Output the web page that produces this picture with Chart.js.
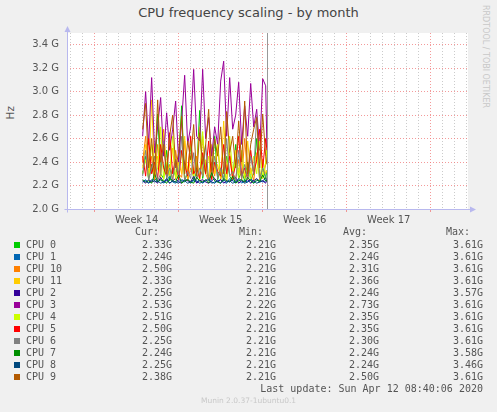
<!DOCTYPE html>
<html>
<head>
<meta charset="utf-8">
<script src="https://cdn.jsdelivr.net/npm/chart.js@4.4.1/dist/chart.umd.min.js"></script>
<style>
  body { margin: 0; background: #f0f0f0; width: 497px; height: 412px; overflow: hidden; position: relative; font-family: "DejaVu Sans", sans-serif; color: #555; }
  #c { position: absolute; left: 0; top: 0; }
  .t { position: absolute; white-space: pre; }
  .mono { font-family: "DejaVu Sans Mono", monospace; font-size: 10px; line-height: 12px; color: #555; }
  .sq { position: absolute; width: 6px; height: 6px; }
</style>
</head>
<body>
<div class="t" style="left:0;width:497px;top:5px;text-align:center;font-size:13px;line-height:16px;color:#444;">CPU frequency scaling - by month</div>
<div class="t" style="left:4px;top:106px;font-size:10.5px;writing-mode:vertical-rl;transform:rotate(180deg);color:#555;">Hz</div>
<div class="t" style="left:481px;top:5px;font-size:8px;writing-mode:vertical-rl;color:#c8c8c8;">RRDTOOL / TOBI OETIKER</div>
<canvas id="c" width="497" height="412"></canvas>
<div id="legend"></div>
<div class="t mono" style="right:14px;top:383px;">Last update: Sun Apr 12 08:40:06 2020</div>
<div class="t" style="left:0;width:497px;top:396px;text-align:center;font-size:7.5px;line-height:10px;color:#c8c8c8;">Munin 2.0.37-1ubuntu0.1</div>
<script>
// time in days from the week 14 boundary, one sample every 6 hours
const times = [4.0, 4.25, 4.5, 4.75, 5.0, 5.25, 5.5, 5.75, 6.0, 6.25, 6.5, 6.75,
  7.0, 7.25, 7.5, 7.75, 8.0, 8.25, 8.5, 8.75, 9.0, 9.25, 9.5, 9.75,
  10.0, 10.25, 10.5, 10.75, 11.0, 11.25, 11.5, 11.75, 12.0, 12.25, 12.5, 12.75,
  13.0, 13.25, 13.5, 13.75, 14.0, 14.25, 14.35];
const nowDay = 14.38;

const weekTicks = [3.5, 10.5, 17.5, 24.5];
const weekLabels = ["Week 14", "Week 15", "Week 16", "Week 17"];

const cpuNames = ["CPU 0", "CPU 1", "CPU 10", "CPU 11", "CPU 2", "CPU 3", "CPU 4", "CPU 5", "CPU 6", "CPU 7", "CPU 8", "CPU 9"];
const cpuColors = ["#00cc00", "#0066b3", "#ff8000", "#ffcc00", "#330099", "#990099", "#ccff00", "#ff0000", "#808080", "#008f00", "#00487d", "#b35a00"];

// GHz
const cpu0 = [2.30,2.45,2.25,2.38,2.24,2.81,2.30,2.26,2.50,2.24,2.35,2.28,2.42,2.88,2.25,2.30,2.55,2.24,2.32,2.84,2.26,2.40,2.24,2.30,2.62,2.25,2.35,2.24,2.45,2.28,2.24,2.55,2.26,2.32,2.24,2.40,2.25,2.30,2.60,2.24,2.35,2.26,2.33];
const cpu1 = [2.23,2.25,2.22,2.24,2.26,2.23,2.25,2.22,2.24,2.28,2.23,2.22,2.25,2.24,2.23,2.26,2.22,2.24,2.23,2.25,2.22,2.24,2.27,2.23,2.22,2.24,2.25,2.23,2.22,2.26,2.24,2.23,2.25,2.22,2.24,2.23,2.26,2.22,2.24,2.25,2.23,2.24,2.24];
const cpu10 = [2.40,2.62,2.28,2.45,2.25,2.55,2.30,2.68,2.26,2.38,2.24,2.50,2.30,2.27,2.58,2.24,2.35,2.28,2.45,2.25,2.62,2.30,2.24,2.40,2.28,2.55,2.25,2.35,2.24,2.48,2.30,2.26,2.42,2.25,2.60,2.28,2.35,2.24,2.45,2.30,2.26,2.38,2.50];
const cpu11 = [2.35,2.55,2.28,2.93,2.30,2.45,2.26,2.65,2.35,2.28,2.52,2.25,2.40,2.30,2.62,2.26,2.45,2.30,2.35,2.70,2.28,2.42,2.25,2.55,2.30,2.38,2.26,2.75,2.32,2.45,2.25,2.50,2.30,2.40,2.26,2.58,2.30,2.35,2.48,2.25,2.42,2.30,2.33];
const cpu2 = [2.24,2.22,2.25,2.23,2.24,2.22,2.27,2.23,2.25,2.22,2.24,2.26,2.23,2.22,2.25,2.24,2.23,2.28,2.22,2.24,2.25,2.23,2.22,2.24,2.26,2.23,2.25,2.22,2.24,2.23,2.25,2.27,2.22,2.24,2.23,2.25,2.22,2.24,2.26,2.23,2.24,2.22,2.25];
const cpu3 = [2.62,3.00,2.55,3.12,2.48,2.70,2.95,2.45,2.82,2.50,2.68,2.92,2.40,2.75,3.14,2.55,2.70,3.19,2.62,2.58,3.19,2.60,2.78,2.45,2.70,2.55,3.09,3.26,2.62,3.12,2.68,2.80,3.08,2.55,2.88,2.62,3.07,2.70,2.85,2.50,3.11,3.05,2.53];
const cpu4 = [2.30,2.42,2.26,2.55,2.28,2.35,2.70,2.25,2.40,2.30,2.62,2.26,2.35,2.48,2.25,2.32,2.58,2.28,2.40,2.25,2.66,2.30,2.45,2.26,2.38,2.55,2.28,2.35,2.25,2.62,2.30,2.42,2.26,2.50,2.28,2.35,2.25,2.45,2.30,2.58,2.26,2.40,2.51];
const cpu5 = [2.45,2.28,2.60,2.30,2.40,2.26,2.55,2.35,2.28,2.65,2.30,2.42,2.25,2.50,2.38,2.28,2.62,2.30,2.35,2.26,2.48,2.30,2.58,2.25,2.40,2.32,2.28,2.55,2.30,2.45,2.26,2.38,2.62,2.28,2.35,2.25,2.50,2.30,2.42,2.68,2.35,2.60,2.50];
const cpu6 = [2.28,2.50,2.25,2.35,2.45,2.24,2.30,2.58,2.26,2.35,2.25,2.42,2.28,2.62,2.24,2.32,2.26,2.48,2.25,2.35,2.28,2.55,2.24,2.30,2.45,2.26,2.35,2.25,2.60,2.28,2.32,2.24,2.50,2.26,2.38,2.25,2.45,2.30,2.79,2.26,2.35,2.28,2.25];
const cpu7 = [2.25,2.23,2.24,2.22,2.30,2.23,2.25,2.24,2.22,2.26,2.24,2.23,2.29,2.22,2.24,2.25,2.23,2.22,2.27,2.24,2.23,2.25,2.22,2.31,2.24,2.23,2.22,2.26,2.24,2.23,2.28,2.22,2.24,2.25,2.23,2.27,2.24,2.22,2.25,2.23,2.29,2.24,2.24];
const cpu8 = [2.23,2.24,2.22,2.25,2.23,2.24,2.22,2.23,2.26,2.22,2.24,2.23,2.22,2.25,2.24,2.22,2.23,2.25,2.24,2.22,2.23,2.24,2.25,2.22,2.23,2.24,2.22,2.25,2.23,2.24,2.22,2.23,2.26,2.24,2.22,2.23,2.25,2.24,2.22,2.23,2.24,2.26,2.25];
const cpu9 = [2.68,2.90,2.35,2.60,2.28,2.93,2.40,2.55,2.30,2.62,2.80,2.35,2.48,2.79,2.30,2.58,2.42,2.72,2.28,2.65,2.38,2.55,2.85,2.32,2.60,2.45,2.70,2.30,2.83,2.48,2.62,2.35,2.75,2.40,2.92,2.30,2.55,2.68,2.78,2.35,2.81,2.45,2.38];
const series = [cpu0, cpu1, cpu10, cpu11, cpu2, cpu3, cpu4, cpu5, cpu6, cpu7, cpu8, cpu9];

// legend table
const curVals = ["2.33G","2.24G","2.50G","2.33G","2.25G","2.53G","2.51G","2.50G","2.25G","2.24G","2.25G","2.38G"];
const minVals = ["2.21G","2.21G","2.21G","2.21G","2.21G","2.22G","2.21G","2.21G","2.21G","2.21G","2.21G","2.21G"];
const avgVals = ["2.35G","2.24G","2.31G","2.36G","2.24G","2.73G","2.35G","2.35G","2.30G","2.24G","2.24G","2.50G"];
const maxVals = ["3.61G","3.61G","3.61G","3.61G","3.57G","3.61G","3.61G","3.61G","3.61G","3.58G","3.46G","3.61G"];

const RED = "rgba(240,120,120,0.75)";
const GRAY = "rgba(190,190,190,0.8)";
const AXIS = "#b8b8ee";

// build the legend
var lg = document.getElementById("legend");
var html = '<div class="t mono" style="right:338px;top:226px;">Cur:</div>' +
  '<div class="t mono" style="right:234px;top:226px;">Min:</div>' +
  '<div class="t mono" style="right:130px;top:226px;">Avg:</div>' +
  '<div class="t mono" style="right:27px;top:226px;">Max:</div>';
cpuNames.forEach(function (n, i) {
  var top = 239 + i * 12;
  html += '<div class="sq" style="left:14px;top:' + (top + 3) + 'px;background:' + cpuColors[i] + '"></div>';
  html += '<div class="t mono" style="left:26px;top:' + top + 'px;">' + n + '</div>';
  html += '<div class="t mono" style="right:325px;top:' + top + 'px;">' + curVals[i] + '</div>';
  html += '<div class="t mono" style="right:221px;top:' + top + 'px;">' + minVals[i] + '</div>';
  html += '<div class="t mono" style="right:118px;top:' + top + 'px;">' + avgVals[i] + '</div>';
  html += '<div class="t mono" style="right:14px;top:' + top + 'px;">' + maxVals[i] + '</div>';
});
lg.innerHTML = html;

// white plot area, "now" line and the rrdtool style axes with arrows
const decor = {
  id: "decor",
  beforeDraw(chart) {
    const a = chart.chartArea, ctx = chart.ctx;
    ctx.save();
    ctx.fillStyle = "#ffffff";
    ctx.fillRect(a.left, a.top, a.right - a.left, a.bottom - a.top);
    ctx.restore();
  },
  afterDatasetsDraw(chart) {
    const a = chart.chartArea, ctx = chart.ctx;
    const x = Math.round(chart.scales.x.getPixelForValue(nowDay)) + 0.5;
    ctx.save();
    ctx.strokeStyle = "#999999";
    ctx.lineWidth = 1;
    ctx.beginPath();
    ctx.moveTo(x, a.top);
    ctx.lineTo(x, a.bottom);
    ctx.stroke();
    ctx.restore();
  },
  afterDraw(chart) {
    const a = chart.chartArea, ctx = chart.ctx;
    const l = a.left + 0.5, b = a.bottom + 0.5;
    ctx.save();
    ctx.strokeStyle = AXIS;
    ctx.fillStyle = AXIS;
    ctx.lineWidth = 1;
    ctx.beginPath();
    ctx.moveTo(l - 3, b);
    ctx.lineTo(a.right + 3, b);
    ctx.moveTo(l, b + 3);
    ctx.lineTo(l, a.top - 2);
    ctx.stroke();
    ctx.beginPath();
    ctx.moveTo(a.right + 2, b - 3);
    ctx.lineTo(a.right + 8, b);
    ctx.lineTo(a.right + 2, b + 3);
    ctx.closePath();
    ctx.fill();
    ctx.beginPath();
    ctx.moveTo(l - 3, a.top - 1);
    ctx.lineTo(l, a.top - 7);
    ctx.lineTo(l + 3, a.top - 1);
    ctx.closePath();
    ctx.fill();
    ctx.restore();
  }
};

var ctx = document.getElementById("c").getContext("2d");
var chart = new Chart(ctx, {
  type: "line",
  data: {
    labels: times,
    datasets: series.map(function (d, i) {
      return {
        label: cpuNames[i],
        data: d,
        borderColor: cpuColors[i],
        backgroundColor: cpuColors[i],
        borderWidth: 1,
        pointRadius: 0,
        tension: 0,
        order: series.length - i // later CPUs on top, like rrdtool
      };
    })
  },
  options: {
    responsive: false,
    animation: false,
    layout: { padding: { left: 0, top: 33, right: 29, bottom: 183 } },
    plugins: { legend: { display: false }, tooltip: { enabled: false } },
    scales: {
      x: {
        type: "linear",
        min: -2.3,
        max: 31.1,
        afterBuildTicks: function (s) {
          var t = [];
          for (var d = -2; d <= 31; d++) t.push({ value: d });
          weekTicks.forEach(function (v) { t.push({ value: v }); });
          t.sort(function (p, q) { return p.value - q.value; });
          s.ticks = t;
        },
        afterFit: function (s) { s.height = 20; },
        grid: {
          color: function (c) {
            var v = c.tick.value;
            if (v % 1 !== 0) return "transparent";
            return v % 7 === 0 ? RED : GRAY;
          },
          tickColor: function (c) {
            var v = c.tick.value;
            return (v % 1 === 0 && v % 7 === 0) ? RED : "transparent";
          },
          tickLength: 3,
          lineWidth: 1
        },
        border: { display: false, dash: [1, 2] },
        ticks: {
          autoSkip: false,
          maxRotation: 0,
          padding: 2,
          color: "#555",
          font: { family: "DejaVu Sans", size: 10 },
          callback: function (v) {
            var k = weekTicks.indexOf(v);
            return k >= 0 ? weekLabels[k] : "";
          }
        }
      },
      y: {
        min: 2.0,
        max: 3.5,
        afterBuildTicks: function (s) {
          var t = [];
          for (var k = 20; k <= 35; k++) t.push({ value: k / 10 });
          s.ticks = t;
        },
        afterFit: function (s) { s.width = 67; },
        grid: {
          color: function (c) { return Math.round(c.tick.value * 10) % 2 === 0 ? RED : GRAY; },
          drawTicks: false,
          lineWidth: 1
        },
        border: { display: false, dash: [1, 2] },
        ticks: {
          padding: 8,
          color: "#555",
          font: { family: "DejaVu Sans", size: 10 },
          callback: function (v) { return Math.round(v * 10) % 2 === 0 ? v.toFixed(1) + " G" : ""; }
        }
      }
    }
  },
  plugins: [decor]
});
</script>
</body>
</html>
